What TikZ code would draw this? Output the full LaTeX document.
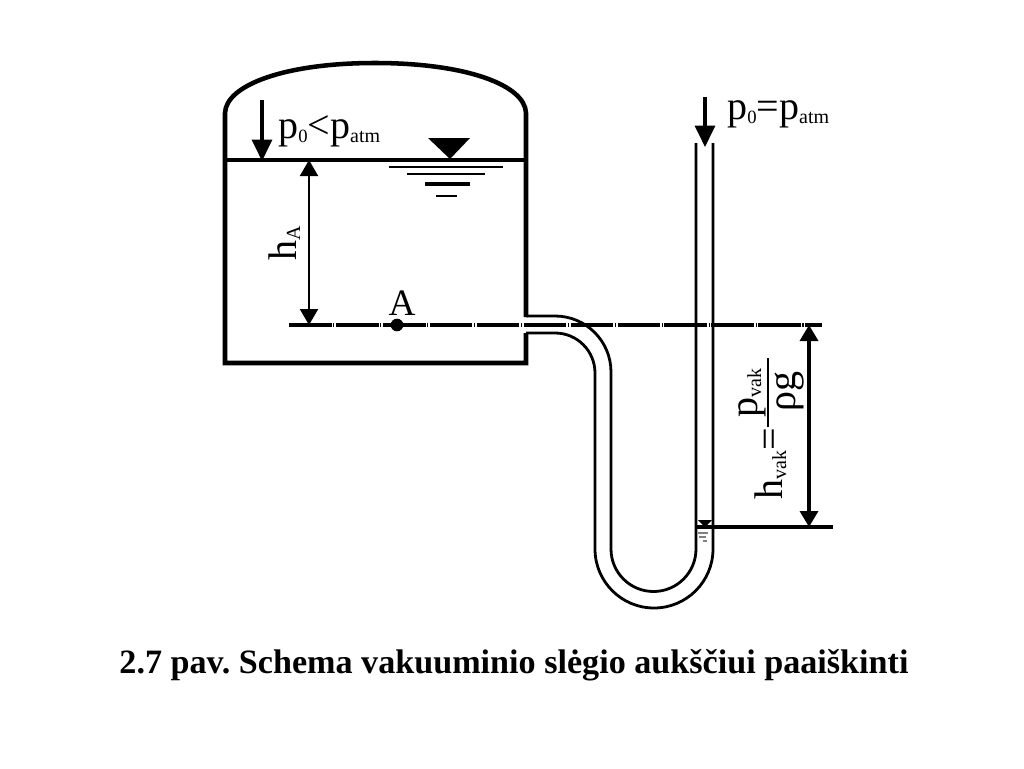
\documentclass[tikz,border=0pt]{standalone}
\usepackage{fontspec}
\setmainfont{Liberation Serif}
\usetikzlibrary{arrows.meta}
\frenchspacing
\newcommand{\bigtxt}{\fontsize{30}{30}\selectfont}
\newcommand{\subtxt}[1]{\raisebox{-3pt}{\fontsize{15}{15}\selectfont #1}}
\newcommand{\zerotxt}{\raisebox{-3pt}{\fontsize{14}{14}\selectfont 0}}
\tikzset{
    wall/.style={draw, line width=3.4pt},
    tube/.style={draw, line width=2.1pt},
    level line/.style={draw, line width=2.3pt},
    axis line/.style={draw, line width=2.5pt, dash pattern=on 32pt off 1.1pt on .8pt off 1.3pt},
    thin arrow/.style={draw, line width=1.5pt, {Triangle[length=12pt,width=13.5pt]}-{Triangle[length=12pt,width=13.5pt]}},
    thick arrow/.style={draw, line width=2.6pt, {Triangle[length=12pt,width=13.5pt]}-{Triangle[length=12pt,width=13.5pt]}},
    load arrow/.style={draw, line width=2.4pt, -{Triangle[length=16pt,width=15pt]}},
    label/.style={inner sep=0pt, font=\bigtxt},
    side label/.style={label, anchor=base west, rotate=90},
    caption/.style={inner sep=0pt, font=\fontsize{25.6}{26}\selectfont\bfseries}
}
\begin{document}
\begin{tikzpicture}[x=0.75pt,y=-0.75pt]
	\useasboundingbox (0,0) rectangle (1024,768);
	% tank
	\path[wall] (526,333) -- (526,363) -- (225,363) -- (225,113)
		.. controls (226,85) and (285,63) .. (375,63)
		.. controls (466,63) and (525,85) .. (526,113) -- (526,317);
	\path[level line] (225,160) -- (526,160);
	% tube
	\path[tube] (526,316) -- (555,316) arc[start angle=-90,end angle=0,radius=56]
		-- (611,549) arc[start angle=180,end angle=0,radius=42.5] -- (696,143);
	\path[tube] (526,333) -- (555,333) arc[start angle=-90,end angle=0,radius=40]
		-- (595,549) arc[start angle=180,end angle=0,radius=59] -- (713,143);
	% levels
	\coordinate (axisL) at (289,325);
	\coordinate (axisR) at (822,325);
	\coordinate (lowL) at (696,527);
	\coordinate (lowR) at (833,527);
	\path[axis line] (axisL) -- (axisR);
	\path[level line] (lowL) -- (lowR);
	\path[draw, line width=3pt] (lowL) -- (713,527);
	% free surface sign
	\path[fill] (428,138) -- (470,138) -- (450,159) -- cycle;
	\path[draw, line width=1.2pt] (389,167) -- (503,167);
	\path[draw, line width=1.2pt] (407,174) -- (485,174);
	\path[draw, line width=2.4pt] (425,184) -- (470,184);
	\path[draw, line width=2pt] (436,196) -- (457,196);
	% small sign in tube
	\path[fill] (698,520) -- (712,520) -- (705,527) -- cycle;
	\begin{scope}[gray, line width=.8pt]
		\draw (698,533) -- (708,533);
		\draw (699,537) -- (706,537);
		\draw (703,541) -- (707,541);
	\end{scope}
	% arrows
	\coordinate (surfA) at (309,160);
	\coordinate (axisA) at (309,325);
	\coordinate (axisB) at (809,325);
	\coordinate (lowB) at (809,527);
	\path[thin arrow] (surfA) -- (axisA);
	\path[thick arrow] (axisB) -- (lowB);
	\coordinate (loadT) at (262,100);
	\coordinate (loadB) at (262,161);
	\coordinate (loadT2) at (705,97);
	\coordinate (loadB2) at (705,147);
	\path[load arrow] (loadT) -- (loadB);
	\path[load arrow] (loadT2) -- (loadB2);
	% point A
	\node[circle, fill, inner sep=0pt, minimum size=9.5pt] (dotA) at (397,325) {};
	\node[label, anchor=base, font=\fontsize{28}{28}\selectfont] (nameA) at (402,315) {A};
	% labels
	\node[label, anchor=base west] (ptank) at (278,138) {p\zerotxt{}<p\subtxt{atm}};
	\node[label, anchor=base west] (popen) at (727,119) {p\zerotxt{}=p\subtxt{atm}};
	\node[side label] (hA) at (296,261) {h\subtxt{A}};
	\node[side label] (hvak) at (782,500) {h\subtxt{vak}=};
	\node[side label] (pvak) at (757,418) {p\subtxt{vak}};
	\node[side label] (rhog) at (795,412) {ρg};
	\coordinate (barB) at (768,427);
	\coordinate (barT) at (768,358);
	\path[draw, line width=1.2pt] (barB) -- (barT);
	\node[caption] (title) at (514,665) {2.7 pav. Schema vakuuminio slėgio aukščiui paaiškinti};
\end{tikzpicture}
\end{document}
